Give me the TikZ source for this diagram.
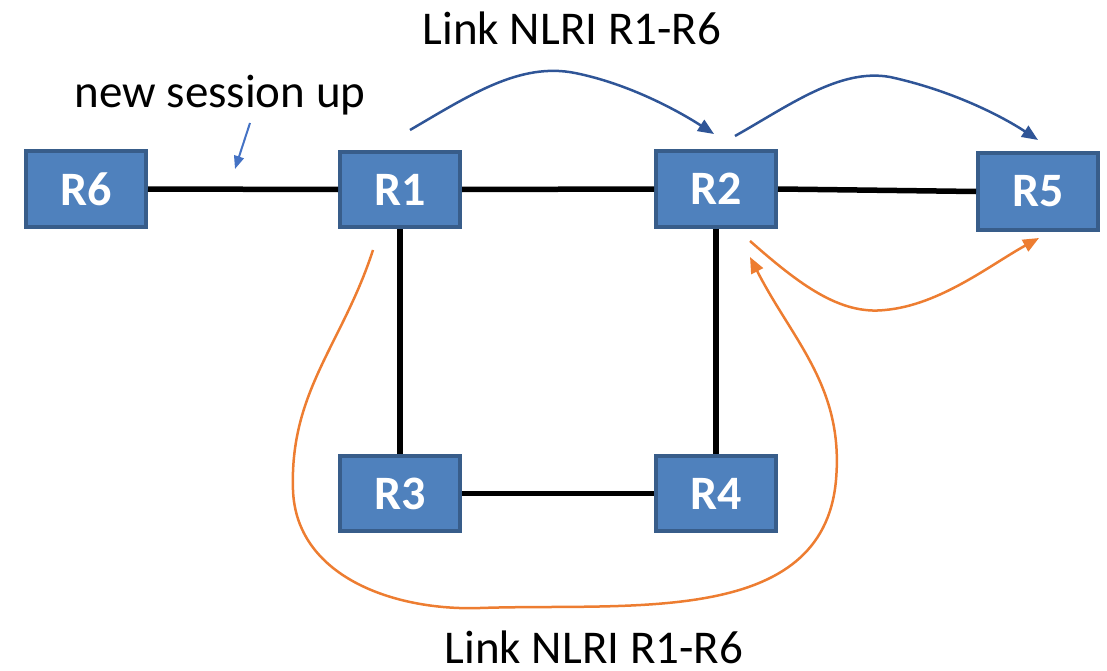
\documentclass[tikz,border=0pt]{standalone}
\usepackage{fontspec}
\setmainfont{Carlito}
\usetikzlibrary{arrows.meta}
\definecolor{boxfill}{HTML}{4F81BD}
\definecolor{boxline}{HTML}{385D8A}
\definecolor{darkblue}{HTML}{2F5597}
\definecolor{lightblue}{HTML}{4472C4}
\definecolor{orng}{HTML}{ED7D31}
\tikzset{
  router/.style={draw=boxline, fill=boxfill, line width=4pt, minimum width=120pt, minimum height=75pt, inner sep=0pt, text=white, font=\fontsize{48}{48}\selectfont\bfseries},
  link/.style={line width=5.5pt, black},
  lbl/.style={anchor=base, inner sep=0pt, font=\fontsize{47}{47}\selectfont},
  bluearr/.style={darkblue, line width=2.5pt, -{Triangle[length=16pt,width=13pt]}},
  orarr/.style={orng, line width=2.5pt, -{Triangle[length=16pt,width=13pt]}},
}
\begin{document}
\begin{tikzpicture}[x=1pt,y=-1pt]
\useasboundingbox (0,0) rectangle (1107,671);
\node[router] (R6) at (86,189) {R6};
\node[router] (R1) at (400,189.5) {R1};
\node[router] (R2) at (716,189) {R2};
\node[router, minimum height=77pt] (R5) at (1038,191.5) {R5};
\node[router] (R3) at (400,493.5) {R3};
\node[router] (R4) at (716,493.5) {R4};

\draw[link] (R6.east) -- (R1.west);
\draw[link] (R1.east) -- (R2.west);
\draw[link] (R2.east) -- (R5.west);
\draw[link] (R1.south) -- (R3.north);
\draw[link] (R2.south) -- (R4.north);
\draw[link] (R3.east) -- (R4.west);

\node[lbl] (top) at (572,45) {Link NLRI R1-R6};
\node[lbl] (ns) at (220,108) {new session up};
\node[lbl] (bot) at (594,663) {Link NLRI R1-R6};

\coordinate (a1s) at (410,130);
\coordinate (a1e) at (714,134);
\coordinate (a2s) at (735,136);
\coordinate (a2e) at (1038,140);
\coordinate (nss) at (250,123);
\coordinate (nse) at (235,169);
\coordinate (o1s) at (750,241);
\coordinate (o1e) at (1039,238);
\coordinate (o2s) at (373,250);
\coordinate (o2e) at (750,257);

\draw[bluearr] (a1s) .. controls (470,95) and (520,62) .. (575,73) .. controls (630,84) and (680,112) .. (a1e);
\draw[bluearr] (a2s) .. controls (790,105) and (840,68) .. (890,77) .. controls (950,90) and (1000,115) .. (a2e);
\draw[lightblue, line width=2pt, -{Triangle[length=13pt,width=10pt]}] (nss) -- (nse);
\draw[orarr] (o1s) .. controls (800,285) and (840,315) .. (885,310) .. controls (940,305) and (990,265) .. (o1e);
\draw[orarr] (o2s) to[out=-108,in=92] (293,490) to[out=-88,in=182] (480,608) to[out=2,in=-95] (836,480) to[out=85,in=-63] (o2e);
\end{tikzpicture}
\end{document}
